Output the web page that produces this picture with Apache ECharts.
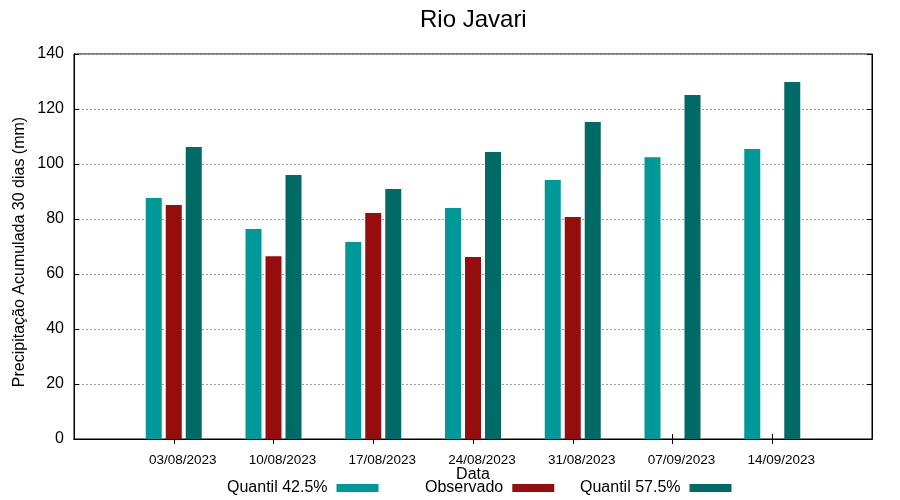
<!DOCTYPE html>
<html>
<head>
<meta charset="utf-8">
<script src="https://cdn.jsdelivr.net/npm/echarts@6/dist/echarts.min.js"></script>
<style>html,body{margin:0;padding:0;background:#fff}#c{width:900px;height:500px}</style>
</head>
<body>
<div id="c"></div>
<script>
const dates = ['03/08/2023','10/08/2023','17/08/2023','24/08/2023','31/08/2023','07/09/2023','14/09/2023'];
const q425 = [87.6, 76.4, 71.6, 84.0, 94.2, 102.5, 105.5];
const observado = [85.1, 66.5, 82.2, 66.2, 80.7, null, null];
const q575 = [106.2, 96.0, 90.9, 104.4, 115.3, 125.1, 129.8];
const yTicks = [0, 20, 40, 60, 80, 100, 120, 140];

const FONT = 'Liberation Sans';
const cats = [''].concat(dates, ['']);
const pad = arr => [null].concat(arr, [null]);
const C1 = '#009999', C2 = '#950d0d', C3 = '#006a66';

const chart = echarts.init(document.getElementById('c'));
function legendAt(name, left) {
  return {
    data: [name], left: left, top: 480, padding: 0, orient: 'horizontal', align: 'right',
    icon: 'rect', itemWidth: 42, itemHeight: 8,
    textStyle: { fontFamily: FONT, fontSize: 16, color: '#000', padding: [0, 4, 0, 0] },
    selectedMode: false
  };
}
chart.setOption({
  animation: false,
  textStyle: { fontFamily: FONT },
  title: {
    text: 'Rio Javari', left: 415, top: 3,
    textStyle: { fontFamily: FONT, fontSize: 24, fontWeight: 'normal', color: '#000' }
  },
  legend: [legendAt('Quantil 42.5%', 227), legendAt('Observado', 425), legendAt('Quantil 57.5%', 580)],
  grid: { left: 74, right: 28, top: 54, bottom: 61, show: true, borderColor: '#000', borderWidth: 1, backgroundColor: 'transparent' },
  xAxis: [{
    type: 'category', data: cats, boundaryGap: false, position: 'bottom',
    name: 'Data', nameLocation: 'middle', nameGap: 28, nameMoveOverlap: false,
    nameTextStyle: { fontFamily: FONT, fontSize: 16, color: '#000' },
    axisLine: { lineStyle: { color: '#000' } },
    axisTick: { inside: true, length: 5, lineStyle: { color: '#000' }, interval: function (i) { return i > 0 && i < cats.length - 1; } },
    axisLabel: { fontFamily: FONT, fontSize: 13.5, color: '#000', margin: 14, padding: [0, 0, 0, 18], interval: 0 },
    splitLine: { show: false }
  }, {
    type: 'category', data: cats, boundaryGap: false, position: 'top',
    axisLine: { lineStyle: { color: '#000' } },
    axisTick: { inside: true, length: 5, lineStyle: { color: '#000' }, interval: function (i) { return i > 0 && i < cats.length - 1; } },
    axisLabel: { show: false }, splitLine: { show: false }
  }],
  yAxis: [{
    type: 'value', min: yTicks[0], max: yTicks[yTicks.length - 1], interval: 20,
    name: 'Precipitação Acumulada 30 dias (mm)', nameLocation: 'middle', nameGap: 46, nameMoveOverlap: false,
    nameTextStyle: { fontFamily: FONT, fontSize: 16, color: '#000', padding: [0, 11, 0, 0] },
    axisLine: { show: true, lineStyle: { color: '#000' } },
    axisTick: { show: true, inside: true, length: 5, lineStyle: { color: '#000' } },
    axisLabel: { fontFamily: FONT, fontSize: 16, color: '#000', margin: 10 },
    splitLine: { show: true, lineStyle: { color: '#a0a0a0', type: [2, 2], width: 1 } }
  }, {
    type: 'value', min: yTicks[0], max: yTicks[yTicks.length - 1], interval: 20, position: 'right',
    axisLine: { show: true, lineStyle: { color: '#000' } },
    axisTick: { show: true, inside: true, length: 5, lineStyle: { color: '#000' } },
    axisLabel: { show: false }, splitLine: { show: false }
  }],
  series: [
    { name: 'Quantil 42.5%', type: 'bar', data: pad(q425), barWidth: 16, barGap: '25%', itemStyle: { color: C1 } },
    { name: 'Observado', type: 'bar', data: pad(observado), barWidth: 16, barGap: '25%', itemStyle: { color: C2 } },
    { name: 'Quantil 57.5%', type: 'bar', data: pad(q575), barWidth: 16, barGap: '25%', itemStyle: { color: C3 } }
  ]
});
</script>
</body>
</html>
